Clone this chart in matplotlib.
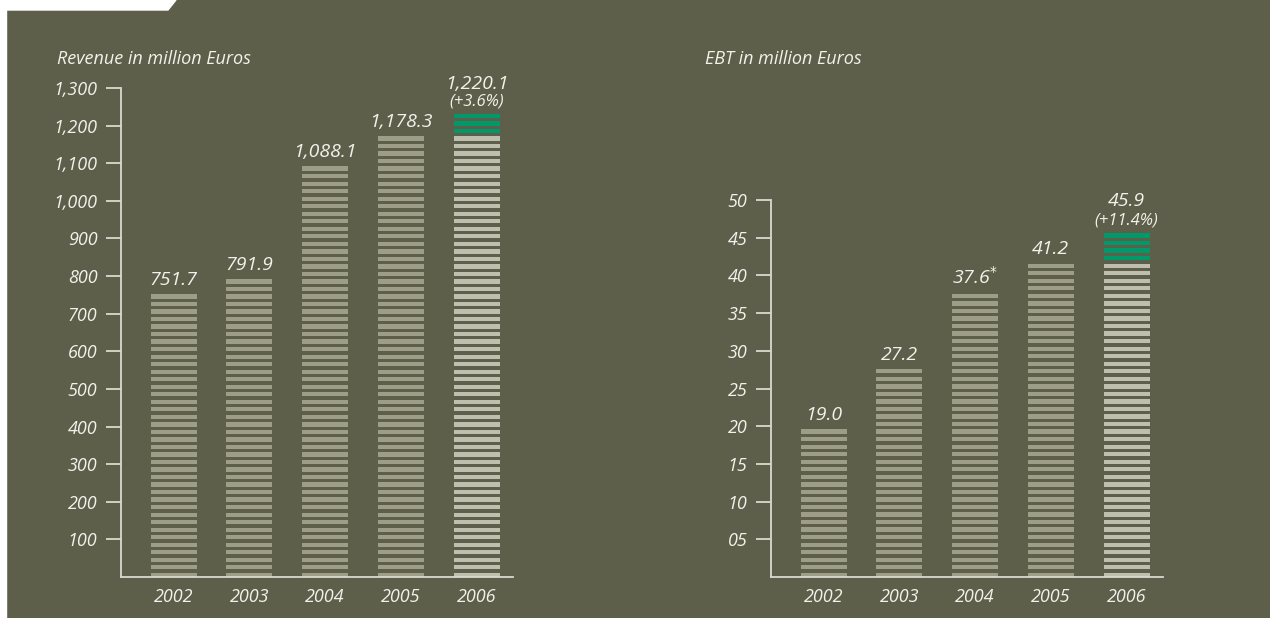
import numpy as np
import matplotlib.pyplot as plt
from matplotlib.patches import Polygon, Rectangle

# Key figures 2002-2006
years = ["2002", "2003", "2004", "2005", "2006"]
revenue = [751.7, 791.9, 1088.1, 1178.3, 1220.1]
revenue_growth = "(+3.6%)"
ebt = [19.0, 27.2, 37.6, 41.2, 45.9]
ebt_growth = "(+11.4%)"
revenue_ticks = [100, 200, 300, 400, 500, 600, 700, 800, 900, 1000, 1100, 1200, 1300]
ebt_ticks = [5, 10, 15, 20, 25, 30, 35, 40, 45, 50]

BG = "#5e5f4b"
STRIPE = "#9d9d88"
STRIPE_LAST = "#bfbfaf"
GREEN = "#00996a"
TXT = "#f2f2ea"
AXC = "#d9d9cf"
FONT = "Open Sans"
FILL = 0.57  # share of each step covered by a stripe

W, H = 1270, 618
fig = plt.figure(figsize=(W / 100, H / 100), dpi=100, facecolor=BG)

# white tab top left + thin white strip down the left edge
fig.patches.append(Polygon([(0, 1), (176 / W, 1), (168 / W, 1 - 10 / H), (0, 1 - 10 / H)],
                           closed=True, transform=fig.transFigure, color="white", zorder=0))
fig.patches.append(Rectangle((0, 0), 6 / W, 1, transform=fig.transFigure, color="white", zorder=0))


def stripe_top(v, pitch):
    return (np.floor(v / pitch + 1e-9) + FILL) * pitch


def striped_chart(rect, values, ticks, top, pitch, fmt, title, title_x):
    ax = fig.add_axes(rect)
    ax.set_facecolor(BG)
    x = np.arange(len(values))
    for i, v in enumerate(values):
        # one stripe per pitch step, up to and including the value
        bottoms = np.arange(0, v + 1e-9, pitch)
        if i == len(values) - 1:
            prev = values[i - 1]
            cols = [GREEN if b >= prev else STRIPE_LAST for b in bottoms]
        else:
            cols = [STRIPE] * len(bottoms)
        ax.bar([x[i]] * len(bottoms), pitch * FILL, bottom=bottoms, width=0.61,
               color=cols, linewidth=0)
    ax.set_xlim(-0.695, 4.48)
    ax.set_ylim(0, top)
    for s in ["top", "right"]:
        ax.spines[s].set_visible(False)
    for s in ["left", "bottom"]:
        ax.spines[s].set_color(AXC)
        ax.spines[s].set_linewidth(1.3)
    ax.set_yticks(ticks)
    ax.set_yticklabels([fmt(t) for t in ticks])
    ax.set_xticks(x)
    ax.set_xticklabels(years)
    ax.tick_params(axis="y", length=11, width=1.3, color=AXC, pad=6, labelcolor=TXT, labelsize=13)
    ax.tick_params(axis="x", length=0, pad=8, labelcolor=TXT, labelsize=13)
    for lab in ax.get_xticklabels() + ax.get_yticklabels():
        lab.set_fontstyle("italic")
        lab.set_fontfamily(FONT)
    fig.text(title_x / W, 1 - 59 / H, title, color=TXT, fontsize=13, style="italic",
             family=FONT, va="center", ha="left")
    return ax, x


ax1, x1 = striped_chart([121 / W, 41 / H, 392 / W, 489 / H], revenue, revenue_ticks, 1300, 20,
                        lambda t: f"{t:,}", "Revenue in million Euros", 57)
ax2, x2 = striped_chart([771 / W, 41 / H, 392 / W, 377 / H], ebt, ebt_ticks, 50, 1,
                        lambda t: f"{t:02d}", "EBT in million Euros", 705)

lab_kw = dict(color=TXT, fontsize=14, style="italic", family=FONT, ha="center", va="bottom",
              textcoords="offset points")

for i, v in enumerate(revenue[:-1]):
    ax1.annotate(f"{v:,.1f}", (x1[i], stripe_top(v, 20)), xytext=(0, 4), **lab_kw)
ax1.annotate(f"{revenue[-1]:,.1f}", (x1[-1], revenue[-1]), xytext=(0, 18), **lab_kw)
ax1.annotate(revenue_growth, (x1[-1], revenue[-1]), xytext=(0, 6),
             **{**lab_kw, "fontsize": 12})

for i, v in enumerate(ebt[:-1]):
    label = f"{v:.1f}" + (r"$^{*}$" if years[i] == "2004" else "")
    ax2.annotate(label, (x2[i], stripe_top(v, 1)), xytext=(0, 4), **lab_kw)
ax2.annotate(f"{ebt[-1]:.1f}", (x2[-1], ebt[-1]), xytext=(0, 15), **lab_kw)
ax2.annotate(ebt_growth, (x2[-1], ebt[-1]), xytext=(0, 2),
             **{**lab_kw, "fontsize": 12})

fig.savefig("out.png", dpi=100, facecolor=BG)
